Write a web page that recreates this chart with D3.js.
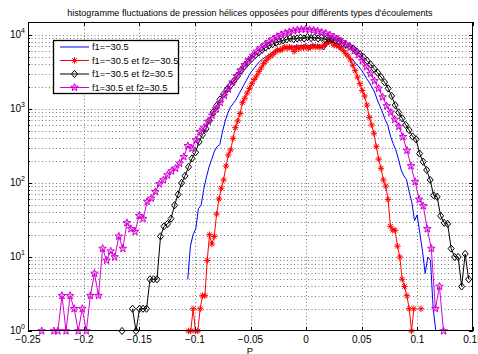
<!DOCTYPE html>
<html>
<head>
<meta charset="utf-8">
<script src="https://cdn.jsdelivr.net/npm/d3@7"></script>
<style>
  body { margin: 0; background: #fff; }
  text { font-family: "Liberation Sans", Arial, Helvetica, sans-serif; fill: #000; }
</style>
</head>
<body>
<script>
// histogram counts, 100 bins per series, bin centres spread between first and last centre
var seriesNames = ["f1=−30.5", "f1=−30.5 et f2=−30.5", "f1=−30.5 et f2=30.5", "f1=30.5 et f2=30.5"];

var blueRange = [-0.1208, 0.1166];
var blueCounts = [1, 1, 0, 1, 1, 0, 5, 14, 20, 24,
    45, 50, 82, 120, 165, 210, 270, 310, 330, 490,
    680, 880, 1060, 1180, 1320, 1550, 1800, 2100, 2450, 2850,
    3250, 3600, 4000, 4400, 4700, 5000, 5300, 5600, 5900, 6200,
    6500, 6000, 6700, 7000, 6800, 7100, 7000, 7300, 7100, 7200,
    7400, 7100, 7300, 7500, 7200, 7400, 7000, 6300, 7200, 7800,
    8300, 7900, 7000, 6400, 6000, 5600, 5200, 4900, 4600, 4100,
    3800, 3400, 3000, 2600, 2300, 2000, 1700, 1350, 1100, 900,
    720, 600, 430, 340, 280, 210, 150, 125, 112, 76,
    55, 31, 37, 21, 12, 6, 10, 9, 2, 1];

var redRange = [-0.1058, 0.1032];
var redCounts = [1, 1, 2, 1, 1, 2, 3, 3, 9, 20,
    15, 19, 38, 61, 85, 110, 170, 240, 280, 400,
    560, 690, 870, 1220, 1400, 1650, 1900, 2200, 2500, 2800,
    3200, 3600, 4100, 4500, 4900, 5200, 5500, 5900, 6300, 6200,
    6500, 6900, 6600, 6900, 6700, 6000, 6800, 6500, 6900, 6700,
    7000, 6600, 6800, 7100, 6900, 7000, 6800, 7000, 7400, 7800,
    8500, 8000, 7250, 7300, 7000, 6700, 6200, 5600, 5200, 4600,
    3900, 3300, 2700, 2200, 1780, 1500, 1130, 770, 610, 470,
    310, 210, 158, 110, 91, 60, 26, 23, 23, 14,
    10, 5, 4, 3, 2, 1, 2, 0, 0, 2];

var blackRange = [-0.1655, 0.1461];
var blackCounts = [1, 0, 0, 2, 1, 2, 2, 2, 5, 5,
    5, 19, 26, 28, 33, 50, 70, 100, 125, 165,
    215, 260, 360, 450, 540, 700, 900, 1100, 1350, 1580,
    1850, 2100, 2400, 2800, 3300, 3800, 4300, 4800, 5300, 5800,
    6300, 6800, 7200, 7500, 7900, 8200, 8500, 8700, 9100, 8800,
    9000, 9200, 9000, 9400, 9100, 9300, 9000, 9200, 8700, 8900,
    8800, 8500, 8200, 7800, 7400, 7000, 6600, 6000, 5500, 5000,
    4500, 4000, 3500, 3100, 2700, 2300, 1900, 1500, 1130, 900,
    750, 610, 520, 425, 390, 250, 194, 150, 110, 68,
    65, 36, 29, 28, 13, 10, 10, 4, 11, 5];

var magentaRange = [-0.2377, 0.1235];
var magentaCounts = [1, 0, 0, 1, 1, 3, 1, 3, 2, 1,
    2, 1, 3, 6, 3, 13, 9, 12, 10, 19,
    13, 29, 24, 22, 36, 33, 56, 62, 76, 97,
    110, 128, 145, 158, 184, 226, 318, 293, 380, 493,
    560, 680, 820, 1000, 1220, 1520, 1850, 2300, 2800, 3350,
    3950, 4600, 5300, 6000, 6700, 7400, 8100, 8800, 9500, 10100,
    10600, 11000, 11400, 11700, 11900, 12000, 11800, 11600, 11300, 10900,
    10500, 10000, 9400, 8800, 8100, 7500, 6800, 6100, 5400, 4500,
    3700, 3000, 2400, 1900, 1450, 1100, 900, 720, 580, 420,
    275, 170, 104, 60, 49, 24, 13, 2, 4, 1];

var xTicks = [-0.25, -0.2, -0.15, -0.1, -0.05, 0, 0.05, 0.1, 0.15];
var yTicks = [1, 10, 100, 1000, 10000];
var titleText = "histogramme fluctuations de pression hélices opposées pour différents types d'écoulements";
var xLabel = "P";

// ---------------------------------------------------------------
var W = 478, H = 354;
var plot = { left: 28, right: 473, top: 22, bottom: 331 };

var x = d3.scaleLinear().domain([-0.25, 0.15]).range([plot.left, plot.right]);
var y = d3.scaleLog().domain([1, 15000]).range([plot.bottom, plot.top]);

var svg = d3.select("body").append("svg")
    .attr("width", W)
    .attr("height", H);

svg.append("defs").append("clipPath").attr("id", "plotclip")
    .append("rect")
    .attr("x", plot.left).attr("y", plot.top)
    .attr("width", plot.right - plot.left).attr("height", plot.bottom - plot.top);

// dotted grid
var grid = svg.append("g").attr("stroke", "#7a7a7a").attr("stroke-width", 1).attr("stroke-dasharray", "1,2.5");
grid.selectAll(".gx")
    .data(xTicks.slice(1, -1))
    .enter().append("line")
    .attr("x1", (d) => Math.round(x(d)) + 0.5).attr("x2", (d) => Math.round(x(d)) + 0.5)
    .attr("y1", plot.top).attr("y2", plot.bottom);

var minorY = [];
for (var e = 0; e < 5; e++) {
    for (var k = 1; k < 10; k++) {
        var v = k * Math.pow(10, e);
        if (v > 1 && v < 15000) minorY.push(v);
    }
}
grid.selectAll(".gy")
    .data(minorY)
    .enter().append("line")
    .attr("x1", plot.left).attr("x2", plot.right)
    .attr("y1", (d) => Math.round(y(d)) + 0.5).attr("y2", (d) => Math.round(y(d)) + 0.5);

// series
function binned(range, counts) {
    var step = (range[1] - range[0]) / (counts.length - 1);
    return counts.map((c, i) => ({ p: range[0] + i * step, v: c }));
}

var series = [
    { name: seriesNames[0], color: "#0000ff", marker: null, data: binned(blueRange, blueCounts) },
    { name: seriesNames[1], color: "#ff0000", marker: "star6", data: binned(redRange, redCounts) },
    { name: seriesNames[2], color: "#000000", marker: "diamond", data: binned(blackRange, blackCounts) },
    { name: seriesNames[3], color: "#d400d4", marker: "penta", data: binned(magentaRange, magentaCounts) }
];

function pentagram(R, r) {
    var pts = [];
    for (var i = 0; i < 10; i++) {
        var a = -Math.PI / 2 + i * Math.PI / 5;
        var rad = (i % 2 == 0) ? R : r;
        pts.push([rad * Math.cos(a), rad * Math.sin(a)]);
    }
    return "M" + pts.map((p) => p[0].toFixed(2) + "," + p[1].toFixed(2)).join("L") + "Z";
}

var markerPaths = {
    star6: "M-3.2,0H3.2M0,-3.2V3.2M-2.3,-2.3L2.3,2.3M-2.3,2.3L2.3,-2.3",
    diamond: "M0,-3.6L3,0L0,3.6L-3,0Z",
    penta: pentagram(4, 1.7)
};

function drawMarker(sel, s) {
    var m = sel.append("path").attr("d", markerPaths[s.marker])
        .attr("stroke", s.color).attr("stroke-width", 1);
    if (s.marker == "penta") m.attr("fill", s.color).attr("fill-opacity", 0.3);
    else m.attr("fill", "none");
    return m;
}

var line = d3.line()
    .defined((d) => d.v > 0)
    .x((d) => x(d.p))
    .y((d) => y(d.v));

series.forEach((s) => {
    var g = svg.append("g");
    g.append("path")
        .datum(s.data)
        .attr("clip-path", "url(#plotclip)")
        .attr("fill", "none")
        .attr("stroke", s.color)
        .attr("stroke-width", 1)
        .attr("d", line);
    if (s.marker) {
        g.selectAll(".mk")
            .data(s.data.filter((d) => d.v > 0 && d.p >= -0.25 && d.p <= 0.15))
            .enter().append("g")
            .attr("transform", (d) => "translate(" + x(d.p) + "," + y(d.v) + ")")
            .each(function () { drawMarker(d3.select(this), s); });
    }
});

// box and ticks
svg.append("rect")
    .attr("x", plot.left + 0.5).attr("y", plot.top + 0.5)
    .attr("width", plot.right - plot.left - 1).attr("height", plot.bottom - plot.top - 1)
    .attr("fill", "none").attr("stroke", "#000").attr("stroke-width", 1);

var ticks = svg.append("g").attr("stroke", "#000").attr("stroke-width", 1);
xTicks.forEach((t) => {
    var px = Math.round(x(t)) + 0.5;
    ticks.append("line").attr("x1", px).attr("x2", px).attr("y1", plot.bottom).attr("y2", plot.bottom - 4);
    ticks.append("line").attr("x1", px).attr("x2", px).attr("y1", plot.top).attr("y2", plot.top + 4);
});
yTicks.concat(minorY).forEach((t) => {
    var py = Math.round(y(t)) + 0.5;
    var len = yTicks.includes(t) ? 4 : 2;
    ticks.append("line").attr("x1", plot.left).attr("x2", plot.left + len).attr("y1", py).attr("y2", py);
    ticks.append("line").attr("x1", plot.right).attr("x2", plot.right - len).attr("y1", py).attr("y2", py);
});

// tick labels
var fmt = d3.format("");
svg.append("g").selectAll("text")
    .data(xTicks)
    .enter().append("text")
    .attr("x", (d) => x(d))
    .attr("y", plot.bottom + 11.5)
    .attr("text-anchor", "middle")
    .attr("font-size", 10)
    .text((d) => fmt(d));

var yl = svg.append("g").selectAll("text")
    .data(yTicks)
    .enter().append("text")
    .attr("x", 25)
    .attr("y", (d) => y(d) + 2.5)
    .attr("text-anchor", "end")
    .attr("font-size", 10);
yl.append("tspan").text("10");
yl.append("tspan").attr("dy", -4.5).attr("font-size", 7).text((d) => Math.round(Math.log10(d)));

// title and axis label
svg.append("text").attr("x", 250).attr("y", 16).attr("text-anchor", "middle")
    .attr("font-size", 9).text(titleText);
svg.append("text").attr("x", 250).attr("y", 353.5).attr("text-anchor", "middle")
    .attr("font-size", 9.5).text(xLabel);

// legend
var leg = svg.append("g");
leg.append("rect")
    .attr("x", 53.5).attr("y", 40.5).attr("width", 125).attr("height", 53)
    .attr("fill", "#fff").attr("stroke", "#000").attr("stroke-width", 1.3);
series.forEach((s, i) => {
    var ly = 47 + i * 13.5;
    leg.append("line").attr("x1", 60).attr("x2", 89).attr("y1", ly).attr("y2", ly)
        .attr("stroke", s.color).attr("stroke-width", 1);
    if (s.marker) {
        drawMarker(leg.append("g").attr("transform", "translate(74.5," + ly + ")"), s);
    }
    leg.append("text").attr("x", 92).attr("y", ly + 3.3).attr("font-size", 9.3).text(s.name);
});
</script>
</body>
</html>
